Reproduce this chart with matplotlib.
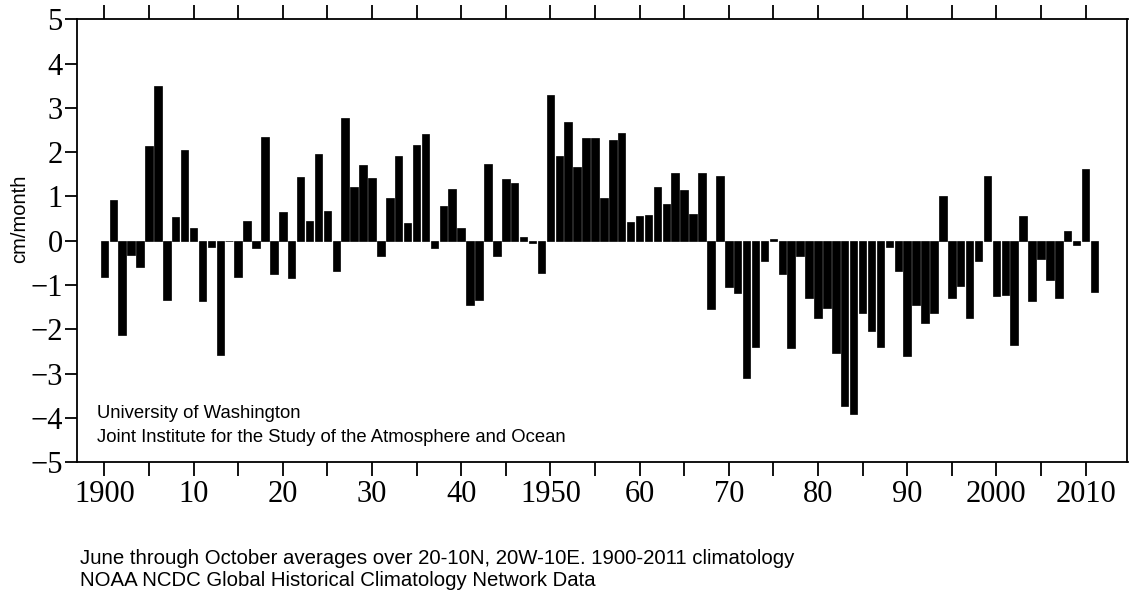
import matplotlib
matplotlib.use("Agg")
import matplotlib.pyplot as plt
import numpy as np

years = list(range(1900, 2012))
values = [
    -0.81, 0.92, -2.13, -0.32, -0.59, 2.14, 3.50, -1.33, 0.54, 2.05,   # 1900-1909
    0.30, -1.36, -0.14, -2.57, 0.0, -0.81, 0.45, -0.17, 2.35, -0.74,   # 1910-1919
    0.64, -0.85, 1.45, 0.45, 1.95, 0.68, -0.68, 2.77, 1.22, 1.70,      # 1920-1929
    1.41, -0.35, 0.97, 1.92, 0.41, 2.17, 2.40, -0.17, 0.78, 1.18,      # 1930-1939
    0.30, -1.44, -1.34, 1.73, -0.35, 1.39, 1.30, 0.09, -0.04, -0.72,   # 1940-1949
    3.30, 1.92, 2.68, 1.67, 2.32, 2.32, 0.97, 2.28, 2.43, 0.43,        # 1950-1959
    0.56, 0.58, 1.22, 0.82, 1.54, 1.15, 0.60, 1.52, -1.55, 1.47,       # 1960-1969
    -1.04, -1.18, -3.09, -2.40, -0.45, 0.05, -0.74, -2.42, -0.35, -1.29,  # 1970-1979
    -1.74, -1.51, -2.53, -3.72, -3.91, -1.63, -2.04, -2.40, -0.15, -0.68,  # 1980-1989
    -2.61, -1.44, -1.85, -1.63, 1.00, -1.29, -1.03, -1.74, -0.46, 1.47,    # 1990-1999
    -1.25, -1.23, -2.36, 0.56, -1.36, -0.42, -0.89, -1.29, 0.23, -0.10,    # 2000-2009
    1.61, -1.15,                                                          # 2010-2011
]
xtick_positions = list(range(1900, 2011, 10))
xtick_labels = ["1900", "10", "20", "30", "40", "1950", "60", "70", "80", "90", "2000", "2010"]
ytick_positions = list(range(-5, 6))
ytick_labels = [("\u2212" + str(abs(v))) if v < 0 else str(v) for v in ytick_positions]

fig = plt.figure(figsize=(11.29, 5.95), dpi=100)
ax = fig.add_axes([76.7 / 1129, 1 - 462.3 / 595, (1127.5 - 76.7) / 1129, (462.3 - 19.3) / 595])

ax.bar(years, values, width=0.84, color="black", edgecolor="black", linewidth=0.5)

ax.set_xlim(1896.9, 2014.7)
ax.set_ylim(-5, 5)

serif = ["Liberation Serif", "DejaVu Serif"]
ax.set_xticks(xtick_positions)
ax.set_xticklabels(xtick_labels, family=serif, fontsize=22)
ax.set_xticks(list(range(1905, 2011, 10)), minor=True)
ax.set_yticks(ytick_positions)
ax.set_yticklabels(ytick_labels, family=serif, fontsize=22)

ax.tick_params(axis="x", which="both", direction="out", top=True, bottom=True,
               length=10, width=1.3, pad=3)
ax.tick_params(axis="y", which="both", direction="out", left=True, right=False,
               length=9, width=1.3, pad=1)
for s in ax.spines.values():
    s.set_linewidth(1.3)

sans = "Liberation Sans"
fig.text(20 / 1129, 1 - 219 / 595, "cm/month", rotation=90, ha="center", va="center",
         fontsize=14.5, family=sans)

fig.text(97 / 1129, 1 - 413 / 595, "University of Washington",
         ha="left", va="center", fontsize=13.3, family=sans)
fig.text(97 / 1129, 1 - 437 / 595, "Joint Institute for the Study of the Atmosphere and Ocean",
         ha="left", va="center", fontsize=13.3, family=sans)

fig.text(80 / 1129, 1 - 558 / 595,
         "June through October averages over 20-10N, 20W-10E. 1900-2011 climatology",
         ha="left", va="center", fontsize=14.7, family=sans)
fig.text(80 / 1129, 1 - 580 / 595, "NOAA NCDC Global Historical Climatology Network Data",
         ha="left", va="center", fontsize=14.7, family=sans)

fig.savefig("out.png", dpi=100)
